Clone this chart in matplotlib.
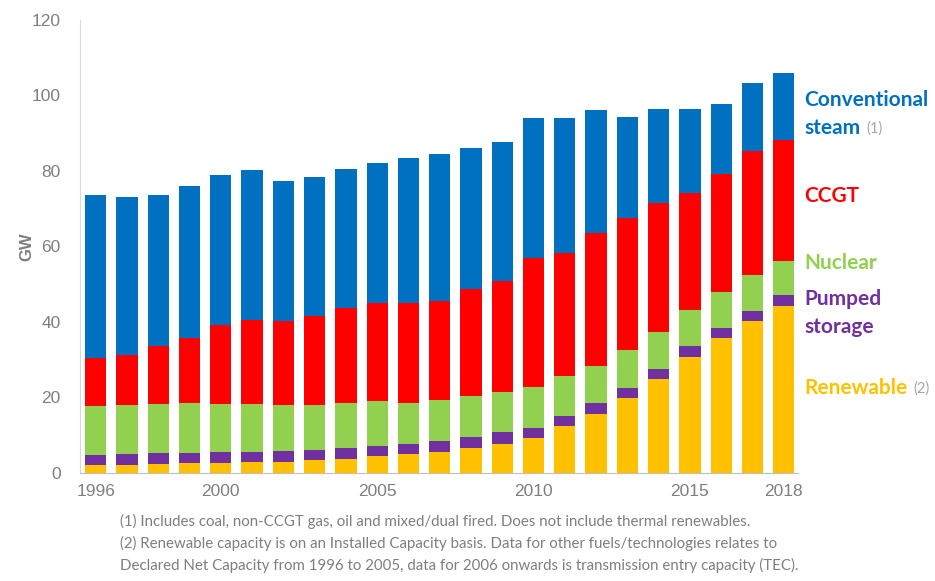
import numpy as np
import matplotlib.pyplot as plt

# GB generation capacity by fuel type, GW
years = list(range(1996, 2019))
renewable = [2.1, 2.2, 2.4, 2.6, 2.7, 2.9, 2.9, 3.3, 3.6, 4.5, 4.9, 5.6, 6.7, 7.7,
             9.2, 12.3, 15.5, 19.8, 24.8, 30.8, 35.6, 40.1, 44.1]
pumped = [2.7, 2.8, 2.8, 2.6, 2.9, 2.7, 3.0, 2.8, 2.9, 2.7, 2.8, 2.8, 2.8, 3.1,
          2.7, 2.7, 2.9, 2.8, 2.7, 2.8, 2.8, 2.8, 3.1]
nuclear = [12.9, 12.9, 13.0, 13.2, 12.6, 12.6, 12.0, 11.8, 11.9, 11.8, 10.9, 10.9, 11.0, 10.7,
           10.8, 10.6, 9.8, 9.9, 9.9, 9.5, 9.5, 9.4, 9.0]
ccgt = [12.7, 13.2, 15.5, 17.3, 21.0, 22.4, 22.3, 23.6, 25.2, 26.0, 26.4, 26.3, 28.2, 29.2,
        34.2, 32.6, 35.4, 35.0, 34.0, 31.0, 31.2, 32.9, 31.9]
conventional = [43.1, 42.0, 40.0, 40.3, 39.7, 39.6, 37.1, 36.8, 36.8, 37.0, 38.3, 38.9, 37.3, 37.0,
                37.0, 35.9, 32.4, 26.7, 25.0, 22.2, 18.6, 18.0, 17.9]
tick_years = [1996, 2000, 2005, 2010, 2015, 2018]

series = [renewable, pumped, nuclear, ccgt, conventional]
colors = ['#FFC000', '#7030A0', '#92D050', '#FF0000', '#0070C0']

plt.rcParams['font.family'] = ['Liberation Sans', 'DejaVu Sans']

fig = plt.figure(figsize=(9.35, 5.81), dpi=100)
ax = fig.add_axes([0.0856, 0.186, 0.768, 0.78])

x = np.arange(len(years))
bottom = np.zeros(len(years))
for vals, c in zip(series, colors):
    ax.bar(x, vals, bottom=bottom, width=0.68, color=c)
    bottom += np.array(vals)

ax.set_xlim(-0.5, 22.46)
ax.set_ylim(0, 120)
ax.set_yticks(range(0, 121, 20))
ax.set_xticks([years.index(y) for y in tick_years])
ax.set_xticklabels([str(y) for y in tick_years])
ax.tick_params(length=0, labelsize=12.5, labelcolor='#7F7F7F', pad=8)
ax.tick_params(axis='y', pad=14)
for s in ['top', 'right']:
    ax.spines[s].set_visible(False)
ax.spines['left'].set_color('#D9D9D9')
ax.spines['bottom'].set_color('#BFBFBF')
ax.set_ylabel('GW', fontsize=12, fontweight='bold', color='#7F7F7F', labelpad=-2)

# labels to the right of the bars
lab = dict(fontsize=15, fontweight='bold', family='Lato', va='center')
note = dict(color='#A6A6A6', fontsize=10.5, family='Lato', va='center')
x0 = 804 / 935
fig.canvas.draw()
renderer = fig.canvas.get_renderer()


def label(y, text, color, suffix=None):
    t = fig.text(x0, 1 - y / 581, text, color=color, **lab)
    if suffix:
        bb = t.get_window_extent(renderer)
        fig.text((bb.x1 + 6) / 935, 1 - (y + 1) / 581, suffix, **note)


label(100, 'Conventional', '#0070C0')
label(128, 'steam', '#0070C0', '(1)')
label(196, 'CCGT', '#FF0000')
label(263, 'Nuclear', '#92D050')
label(299, 'Pumped', '#7030A0')
label(327, 'storage', '#7030A0')
label(388, 'Renewable', '#FFC000', '(2)')

notes = ['(1) Includes coal, non-CCGT gas, oil and mixed/dual fired. Does not include thermal renewables.',
         '(2) Renewable capacity is on an Installed Capacity basis. Data for other fuels/technologies relates to',
         'Declared Net Capacity from 1996 to 2005, data for 2006 onwards is transmission entry capacity (TEC).']
for i, t in enumerate(notes):
    fig.text(120 / 935, 1 - (521 + 22 * i) / 581, t, fontsize=10.8, color='#7F7F7F',
             family='Lato', va='center')

fig.savefig('out.png', dpi=100)
